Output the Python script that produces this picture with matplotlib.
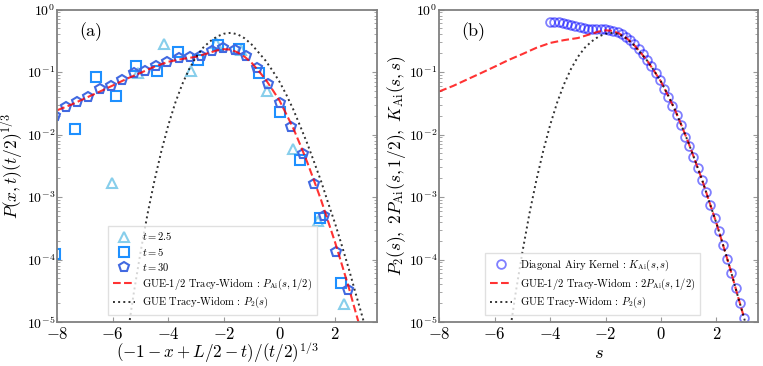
import numpy as np
import matplotlib
matplotlib.use("Agg")
import matplotlib.pyplot as plt

plt.rcParams['font.family'] = 'serif'
plt.rcParams['font.serif'] = ['cmr10']
plt.rcParams['mathtext.fontset'] = 'cm'
plt.rcParams['axes.formatter.use_mathtext'] = True

# ---- panel (a): simulation data ----
x_t25 = [-6.02, -5.10, -4.17, -3.20, -2.30, -1.37, -0.46, 0.47, 1.40, 2.34]
y_t25 = [1.66e-3, 0.097, 0.286, 0.105, 0.294, 0.224, 0.050, 5.8e-3, 4.1e-4, 1.96e-5]

x_t5 = [-8.09, -7.35, -6.61, -5.88, -5.16, -4.41, -3.67, -2.93, -2.20, -1.46,
        -0.72, 0.01, 0.75, 1.47, 2.22]
y_t5 = [1.24e-4, 0.0121, 0.082, 0.0418, 0.127, 0.105, 0.206, 0.155, 0.269, 0.230,
        0.095, 0.0232, 3.9e-3, 4.6e-4, 4.2e-5]

x_t30 = [-8.10, -7.69, -7.28, -6.88, -6.48, -6.07, -5.67, -5.25, -4.86, -4.46,
         -4.05, -3.63, -3.24, -2.82, -2.42, -2.02, -1.60, -1.19, -0.80, -0.40,
         0.01, 0.41, 0.83, 1.23, 1.61, 2.04, 2.46]
y_t30 = [0.020, 0.0279, 0.0327, 0.040, 0.0527, 0.0596, 0.0743, 0.0973, 0.105, 0.124,
         0.146, 0.165, 0.171, 0.180, 0.216, 0.238, 0.224, 0.180, 0.114, 0.0634,
         0.0315, 0.0130, 4.83e-3, 1.62e-3, 4.9e-4, 1.31e-4, 3.3e-5]

# ---- theory curves ----
s_pai = [-8.0, -7.5, -7.0, -6.5, -6.0, -5.5, -5.0, -4.5, -4.0, -3.5, -3.0, -2.5,
         -2.25, -2.0, -1.75, -1.5, -1.25, -1.0, -0.75, -0.5, -0.25, 0.0, 0.25, 0.5,
         0.75, 1.0, 1.25, 1.5, 1.75, 2.0, 2.25, 2.5, 2.75, 3.0]
p_ai = [0.0245, 0.030, 0.038, 0.048, 0.061, 0.078, 0.097, 0.122, 0.146, 0.162,
        0.175, 0.205, 0.222, 0.232, 0.228, 0.205, 0.175, 0.140, 0.104, 0.076,
        0.052, 0.035, 0.021, 0.0125, 6.8e-3, 3.6e-3, 1.8e-3, 8.9e-4, 4.1e-4,
        1.9e-4, 8.2e-5, 3.5e-5, 1.4e-5, 5.8e-6]

s_p2 = [-5.5, -5.25, -5.0, -4.75, -4.5, -4.25, -4.0, -3.75, -3.5, -3.25, -3.0,
        -2.75, -2.5, -2.25, -2.0, -1.75, -1.5, -1.25, -1.0, -0.75, -0.5, -0.25,
        0.0, 0.25, 0.5, 0.75, 1.0, 1.25, 1.5, 1.75, 2.0, 2.25, 2.5, 2.75, 3.0, 3.25]
p2 = [5.1e-6, 2.85e-5, 1.34e-4, 5.4e-4, 1.85e-3, 5.5e-3, 0.0143, 0.0324, 0.064,
      0.112, 0.175, 0.245, 0.31, 0.37, 0.41, 0.424, 0.40, 0.345, 0.275, 0.205,
      0.152, 0.105, 0.070, 0.043, 0.025, 0.0135, 7.2e-3, 3.6e-3, 1.78e-3, 8.1e-4,
      3.8e-4, 1.65e-4, 7.0e-5, 2.8e-5, 1.15e-5, 4.2e-6]

# ---- panel (b): diagonal Airy kernel ----
s_k = [-4.00, -3.85, -3.70, -3.54, -3.39, -3.24, -3.09, -2.93, -2.78, -2.63,
       -2.48, -2.33, -2.17, -2.02, -1.87, -1.72, -1.57, -1.41, -1.26, -1.11,
       -0.96, -0.80, -0.65, -0.50, -0.35, -0.20, -0.04, 0.11, 0.26, 0.41,
       0.57, 0.72, 0.87, 1.02, 1.17, 1.33, 1.48, 1.63, 1.78, 1.93,
       2.09, 2.24, 2.39, 2.54, 2.70, 2.85, 3.00]
k_ai = [0.643, 0.641, 0.634, 0.619, 0.597, 0.572, 0.546, 0.523, 0.505, 0.495,
        0.492, 0.491, 0.490, 0.487, 0.476, 0.460, 0.435, 0.402, 0.363, 0.320,
        0.277, 0.234, 0.194, 0.158, 0.126, 0.098, 0.075, 0.0543, 0.0398, 0.0285,
        0.0203, 0.0140, 9.3e-3, 6.6e-3, 4.4e-3, 2.9e-3, 1.88e-3, 1.20e-3, 7.5e-4, 4.65e-4,
        2.86e-4, 1.71e-4, 1.01e-4, 6.0e-5, 3.47e-5, 1.99e-5, 1.15e-5]

fig = plt.figure(figsize=(7.63, 3.66), dpi=100)
ax1 = fig.add_axes([0.0751, 0.120, 0.4186, 0.854])
ax2 = fig.add_axes([0.5758, 0.120, 0.4177, 0.854])


def style(ax):
    ax.set_yscale('log')
    ax.set_xlim(-8, 3.5)
    ax.set_ylim(1e-5, 1)
    ax.set_xticks([-8, -6, -4, -2, 0, 2])
    for sp in ax.spines.values():
        sp.set_color('gray')
        sp.set_linewidth(1.3)
    ax.tick_params(which='both', direction='in', color='0.6', right=True)
    ax.tick_params(axis='x', labelsize=12, pad=2.5)
    ax.tick_params(axis='y', labelsize=10, pad=1.5)


leg_kw = dict(loc='lower right', fontsize=7.6, fancybox=False, edgecolor='0.85',
              handlelength=2.1, handletextpad=0.7, labelspacing=0.32,
              borderpad=0.45)

ax1.plot(x_t25, y_t25, '^', ms=7.5, mfc='none', mec='#87CEEB', mew=1.5,
         label=r'$t=2.5$')
ax1.plot(x_t5, y_t5, 's', ms=6.5, mfc='none', mec='#1E90FF', mew=1.5,
         label=r'$t=5$')
ax1.plot(x_t30, y_t30, 'p', ms=7.5, mfc='none', mec='#4169E1', mew=1.5,
         label=r'$t=30$')
ax1.plot(s_pai, p_ai, '--', color='red', alpha=0.8, lw=1.5,
         label=r'GUE-1/2 Tracy-Widom : $P_{\rm Ai}(s,1/2)$')
ax1.plot(s_p2, p2, ':', color='black', alpha=0.8, lw=1.4,
         label=r'GUE Tracy-Widom : $P_2(s)$')
style(ax1)
ax1.set_xlabel(r'$(-1-x+L/2-t)/(t/2)^{1/3}$', fontsize=12.3)
ax1.set_ylabel(r'$P(x,t)(t/2)^{1/3}$', fontsize=12.5)
ax1.xaxis.set_label_coords(0.5, -0.06)
ax1.yaxis.set_label_coords(-0.098, 0.5)
ax1.text(0.07, 0.93, '(a)', transform=ax1.transAxes, fontsize=13, va='center')
ax1.legend(bbox_to_anchor=(0.83, 0.005), **leg_kw)

ax2.plot(s_k, k_ai, 'o', ms=6.3, mfc='none', mec='blue', mew=1.3, alpha=0.5,
         label=r'Diagonal Airy Kernel : $K_{\rm Ai}(s,s)$')
ax2.plot(s_pai, 2 * np.array(p_ai), '--', color='red', alpha=0.8, lw=1.5,
         label=r'GUE-1/2 Tracy-Widom : $2P_{\rm Ai}(s,1/2)$')
ax2.plot(s_p2, p2, ':', color='black', alpha=0.8, lw=1.4,
         label=r'GUE Tracy-Widom : $P_2(s)$')
style(ax2)
ax2.set_xlabel(r'$s$', fontsize=13.3)
ax2.set_ylabel(r'$P_2(s),\ 2P_{\rm Ai}(s,1/2),\ K_{\rm Ai}(s,s)$', fontsize=12.5)
ax2.xaxis.set_label_coords(0.5, -0.075)
ax2.yaxis.set_label_coords(-0.098, 0.5)
ax2.text(0.07, 0.93, '(b)', transform=ax2.transAxes, fontsize=13, va='center')
ax2.legend(bbox_to_anchor=(0.834, 0.005), **leg_kw)

fig.savefig('out.png', dpi=100)
